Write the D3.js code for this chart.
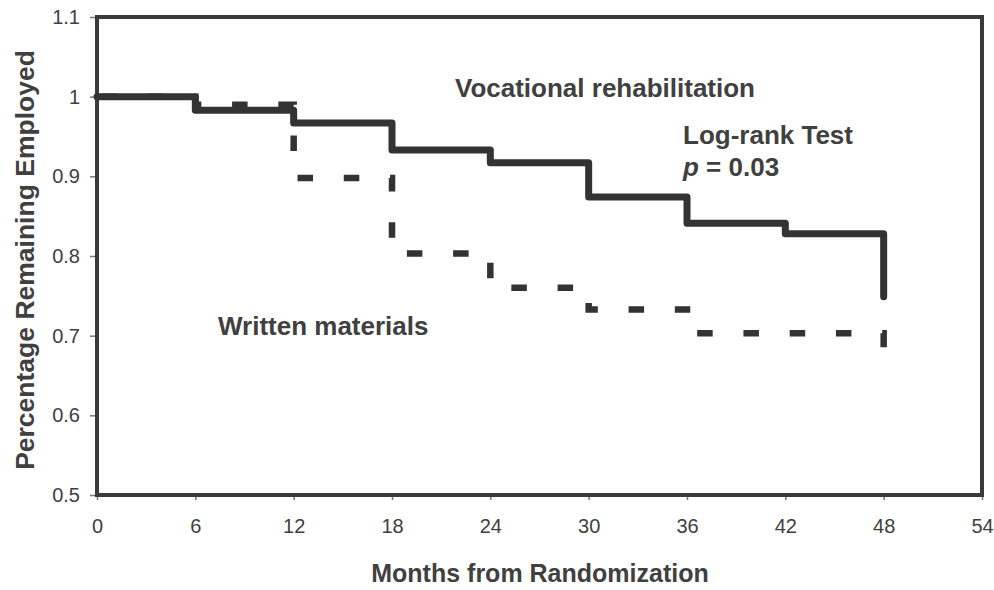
<!DOCTYPE html>
<html>
<head>
<meta charset="utf-8">
<script src="https://cdn.jsdelivr.net/npm/d3@7"></script>
<style>
  body { margin: 0; background: #fff; }
  svg text { font-family: 'Liberation Sans', Arial, sans-serif; fill: #404040; }
</style>
</head>
<body>
<div id="graph"></div>
<script>
'use strict';

let WIDTH = 994;
let HEIGHT = 590;
let PLOT = { left: 97, right: 982, top: 17, bottom: 495 };

// step points (month, proportion still employed)
let months = [0, 6, 12, 18, 24, 30, 36, 42, 48];
let vocational = [1.0, 0.983, 0.967, 0.933, 0.917, 0.874, 0.841, 0.828, 0.749];
let writtenMonths = [0, 6, 12, 18, 24, 30, 36, 48];
let written = [1.0, 0.99, 0.898, 0.803, 0.76, 0.733, 0.703, 0.685];

let xTicks = [0, 6, 12, 18, 24, 30, 36, 42, 48, 54];
let yTicks = [0.5, 0.6, 0.7, 0.8, 0.9, 1, 1.1];

let svg = d3.select('#graph')
    .append('svg')
    .attr('width', WIDTH)
    .attr('height', HEIGHT);

let xScale = d3.scaleLinear()
    .domain([0, 54])
    .range([PLOT.left, PLOT.right]);

let yScale = d3.scaleLinear()
    .domain([0.5, 1.1])
    .range([PLOT.bottom, PLOT.top]);

// axes, ticks only (the frame is drawn below)
let xAxis = d3.axisBottom(xScale)
    .tickValues(xTicks)
    .tickFormat(d => d)
    .tickSize(5)
    .tickSizeOuter(0)
    .tickPadding(19);

let yAxis = d3.axisLeft(yScale)
    .tickValues(yTicks)
    .tickFormat(d => d)
    .tickSize(7)
    .tickSizeOuter(0)
    .tickPadding(10);

let gx = svg.append('g')
    .attr('transform', 'translate(0,' + PLOT.bottom + ')')
    .call(xAxis);

let gy = svg.append('g')
    .attr('transform', 'translate(' + PLOT.left + ',0)')
    .call(yAxis);

[gx, gy].forEach(g => {
    g.select('.domain').remove();
    g.selectAll('line').attr('stroke', '#777').attr('stroke-width', 1.5);
    g.selectAll('text')
        .style('font-size', '20px')
        .attr('fill', '#404040');
});

// frame
svg.append('rect')
    .attr('x', PLOT.left)
    .attr('y', PLOT.top)
    .attr('width', PLOT.right - PLOT.left)
    .attr('height', PLOT.bottom - PLOT.top)
    .attr('fill', 'none')
    .attr('stroke', '#3a3a3a')
    .attr('stroke-width', 4);

let line = d3.line()
    .x(d => xScale(d[0]))
    .y(d => yScale(d[1]))
    .curve(d3.curveStepAfter);

// written materials (dashed)
svg.append('path')
    .datum(writtenMonths.map((m, i) => [m, written[i]]))
    .attr('d', line)
    .attr('fill', 'none')
    .attr('stroke', '#333')
    .attr('stroke-width', 6.5)
    .attr('stroke-dasharray', '15.5,30.75')
    .attr('stroke-dashoffset', -4.3);

// vocational rehabilitation (solid)
svg.append('path')
    .datum(months.map((m, i) => [m, vocational[i]]))
    .attr('d', line)
    .attr('fill', 'none')
    .attr('stroke', '#333')
    .attr('stroke-width', 7)
    .attr('stroke-linejoin', 'round')
    .attr('stroke-linecap', 'round');

// axis titles
svg.append('text')
    .attr('x', 540)
    .attr('y', 582)
    .attr('text-anchor', 'middle')
    .style('font-size', '25px')
    .style('font-weight', 'bold')
    .text('Months from Randomization');

svg.append('text')
    .attr('transform', 'translate(34,260) rotate(-90)')
    .attr('text-anchor', 'middle')
    .style('font-size', '26.5px')
    .style('font-weight', 'bold')
    .text('Percentage Remaining Employed');

// annotations
let notes = [
    { x: 455, y: 97, text: 'Vocational rehabilitation' },
    { x: 683, y: 144, text: 'Log-rank Test' },
    { x: 218, y: 335, text: 'Written materials' },
];

svg.selectAll('.note')
    .data(notes)
    .enter()
    .append('text')
    .attr('class', 'note')
    .attr('x', d => d.x)
    .attr('y', d => d.y)
    .style('font-size', '26px')
    .style('font-weight', 'bold')
    .text(d => d.text);

let pText = svg.append('text')
    .attr('x', 683)
    .attr('y', 176)
    .style('font-size', '26px')
    .style('font-weight', 'bold');
pText.append('tspan').style('font-style', 'italic').text('p');
pText.append('tspan').text(' = 0.03');
</script>
</body>
</html>
